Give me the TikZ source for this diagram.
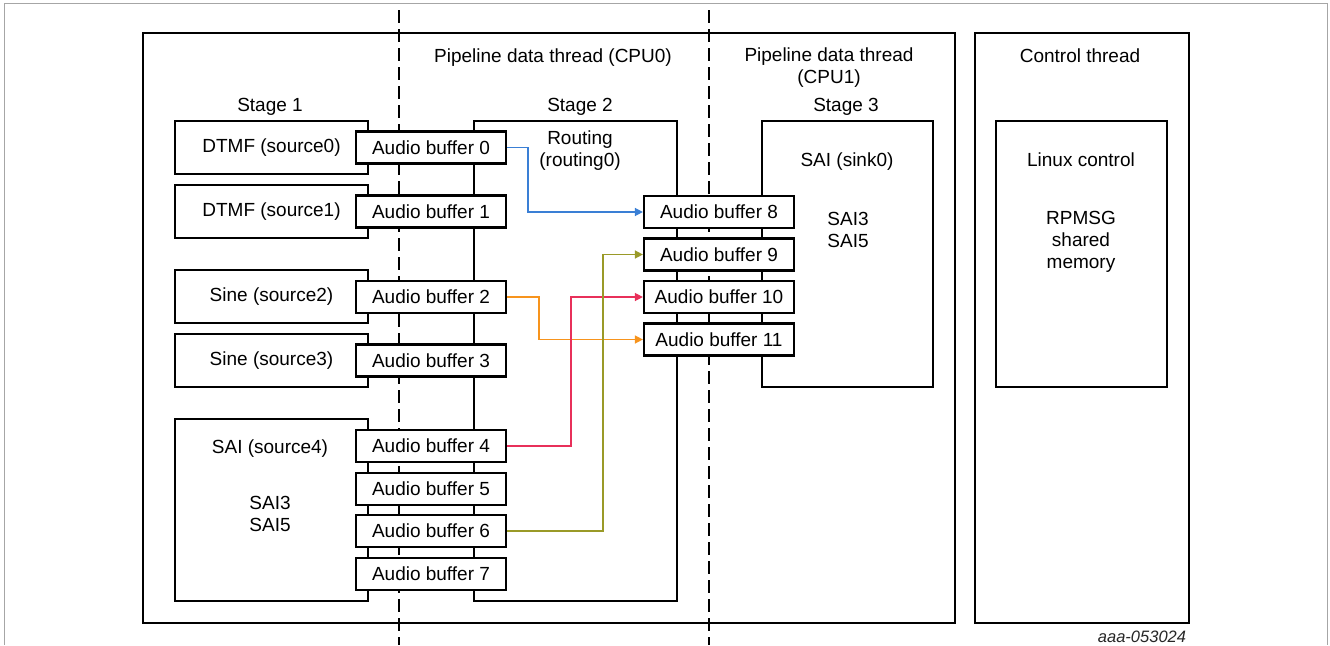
\documentclass[tikz,border=0pt]{standalone}
\usepackage{fontspec}
\setmainfont{Liberation Sans}
\usetikzlibrary{arrows.meta,positioning}
\definecolor{lnblue}{RGB}{58,127,213}
\definecolor{lnolive}{RGB}{154,154,40}
\definecolor{lnred}{RGB}{232,48,90}
\definecolor{lnorange}{RGB}{247,148,29}

\begin{document}
\begin{tikzpicture}[>={Triangle[length=8pt,width=8pt]},x=1pt,y=-1pt,
  font=\fontsize{19}{22}\selectfont,
  blk/.style={draw,line width=2.2pt,inner sep=0pt},
  abuf/.style={blk,fill=white,minimum width=150pt,minimum height=32pt},
  srcbox/.style={blk,minimum width=193pt,minimum height=53pt},
  txt/.style={inner sep=0pt,anchor=base},
  link/.style={->,line width=1.4pt},
  sep/.style={line width=1.2pt,dash pattern=on 13pt off 6pt}]
  \useasboundingbox (0,0) rectangle (1330,645);
  \draw[gray!70,line width=1pt] (4,645) -- (4,3) -- (1327,3) -- (1327,645);
  % threads
  \node[blk,minimum width=812pt,minimum height=590pt] (pipe) at (549,328) {};
  \node[blk,minimum width=214pt,minimum height=590pt] (ctrl) at (1082,328) {};
  \draw[sep] (399,10) -- (399,645);
  \draw[sep] (709,10) -- (709,645);
  % stage 1
  \node[srcbox] (src0) at (271.5,147.5) {DTMF (source0)};
  \node[srcbox] (src1) at (271.5,211.5) {DTMF (source1)};
  \node[srcbox] (src2) at (271.5,296.5) {Sine (source2)};
  \node[srcbox] (src3) at (271.5,360.5) {Sine (source3)};
  \node[blk,minimum width=193pt,minimum height=182pt] (src4) at (271.5,510) {};
  % stage 2 and 3
  \node[blk,minimum width=203pt,minimum height=480pt] (rout) at (575.5,361) {};
  \node[blk,minimum width=171pt,minimum height=266pt] (sink) at (847.5,254) {};
  \node[blk,minimum width=171pt,minimum height=266pt] (linux) at (1081.5,254) {};
  % audio buffers
  \node[abuf] (b0) at (431,147.5) {Audio buffer 0};
  \node[abuf] (b1) at (431,211.5) {Audio buffer 1};
  \node[abuf] (b2) at (431,297) {Audio buffer 2};
  \node[abuf] (b3) at (431,360.5) {Audio buffer 3};
  \node[abuf] (b4) at (431,446) {Audio buffer 4};
  \node[abuf] (b5) at (431,489) {Audio buffer 5};
  \node[abuf] (b6) at (431,531) {Audio buffer 6};
  \node[abuf] (b7) at (431,574) {Audio buffer 7};
  \node[abuf] (b8) at (719,212) {Audio buffer 8};
  \node[abuf] (b9) at (719,254.5) {Audio buffer 9};
  \node[abuf] (b10) at (719,297) {Audio buffer 10};
  \node[abuf] (b11) at (719,339.5) {Audio buffer 11};
  % routes
  \draw[link,lnblue] (b0.east) -- ++(21,0) |- (b8.west);
  \draw[link,lnorange] (b2.east) -- ++(32,0) |- (b11.west);
  \draw[link,lnred] (b4.east) -- ++(64,0) |- (b10.west);
  \draw[link,lnolive] (b6.east) -- ++(96,0) |- (b9.west);
  % labels
  \node[txt] (cpu0) at (553,62) {Pipeline data thread (CPU0)};
  \node[txt,align=center,anchor=north] (cpu1) at (829,48) {Pipeline data thread\\(CPU1)};
  \node[txt] (ctlt) at (1080,62) {Control thread};
  \node[txt] (st1) at (270,111) {Stage 1};
  \node[txt] (st2) at (580,111) {Stage 2};
  \node[txt] (st3) at (846,111) {Stage 3};
  \node[txt,align=center,anchor=north] (routt) at (580,131) {Routing\\(routing0)};
  \node[txt] (sinkt) at (847,166) {SAI (sink0)};
  \node[txt,align=center,anchor=north] (sinks) at (848,212) {SAI3\\SAI5};
  \node[txt] (linuxt) at (1081,166) {Linux control};
  \node[txt,align=center,anchor=north] (rpmsg) at (1081,211) {RPMSG\\shared\\memory};
  \node[txt] (src4t) at (270,453) {SAI (source4)};
  \node[txt,align=center,anchor=north] (src4s) at (270,496) {SAI3\\SAI5};
  \node[txt,font=\fontsize{16.5}{18}\selectfont\itshape,text=black!85] (fig) at (1142,642) {aaa-053024};
\end{tikzpicture}
\end{document}
